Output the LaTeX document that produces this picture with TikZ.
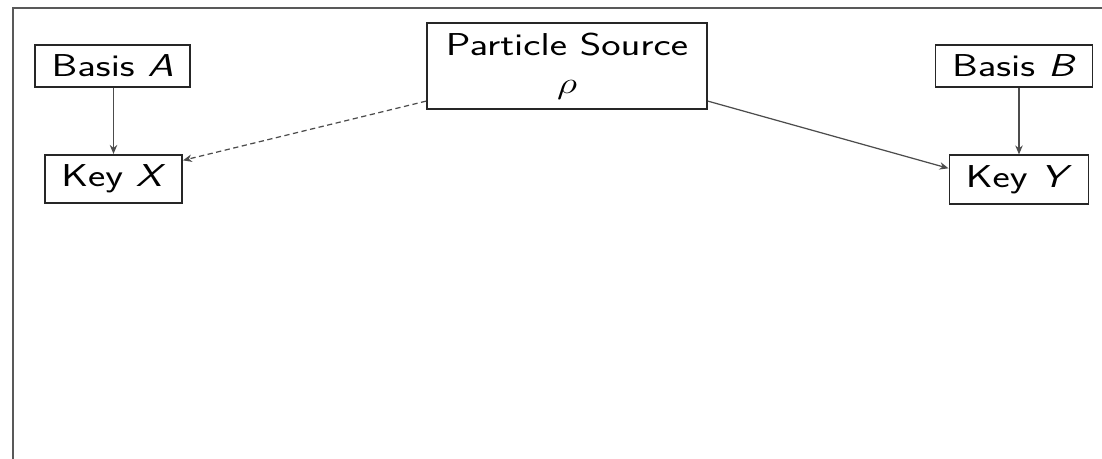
\documentclass[tikz,border=0pt]{standalone}
\usepackage{amsmath,amssymb}
\usepackage{graphicx}
\usepackage{xcolor}
\usepackage{tikz}
\usetikzlibrary{arrows.meta,positioning}
\tikzset{
  basisbox/.style={rectangle,draw=black!85,line width=1pt,inner xsep=.33cm,inner ysep=.2cm,font=\sffamily\fontsize{18}{21.6}\selectfont},
  keybox/.style={basisbox},
  sourcebox/.style={basisbox,align=center,inner xsep=.38cm},
  feed/.style={line width=.7pt,black!70,-{Stealth[length=1.8mm,width=1.5mm]}},
  emit/.style={line width=.7pt,black!70,-{Stealth[length=1.8mm,width=1.5mm]}},
  emitdash/.style={emit,densely dashed},
  frame/.style={line width=1.6pt,black!65}
}
% the reference letters are set wide
\newcommand{\widetxt}[1]{\scalebox{1.3}[1]{#1}}
\newcommand{\sv}[1]{\textsl{#1}}

\begin{document}
\begin{tikzpicture}
  \useasboundingbox (0,0) rectangle (22.04,9.18);
  \draw[frame] (0.26,-0.2) -- (0.26,9.02) -- (22.3,9.02);

  \node[sourcebox] (src) at (11.34,7.86) {\widetxt{Particle Source}\\\widetxt{$\rho$}};

  \node[basisbox] (basisA) at (2.25,7.86) {\widetxt{Basis \sv{A}}};
  \node[keybox] (keyX) at (2.27,5.6) {\widetxt{Key \sv{X}}};
  \draw[feed] (keyX.north |- basisA.south) -- (keyX.north);

  \node[basisbox] (basisB) at (20.28,7.86) {\widetxt{Basis \sv{B}}};
  \node[keybox] (keyY) at (20.38,5.59) {\widetxt{Key \sv{Y}}};
  \draw[feed] (keyY.north |- basisB.south) -- (keyY.north);

  \draw[emitdash] (src.194) -- (keyX.15);
  \draw[emit] (src.346) -- (keyY.171);
\end{tikzpicture}
\end{document}
